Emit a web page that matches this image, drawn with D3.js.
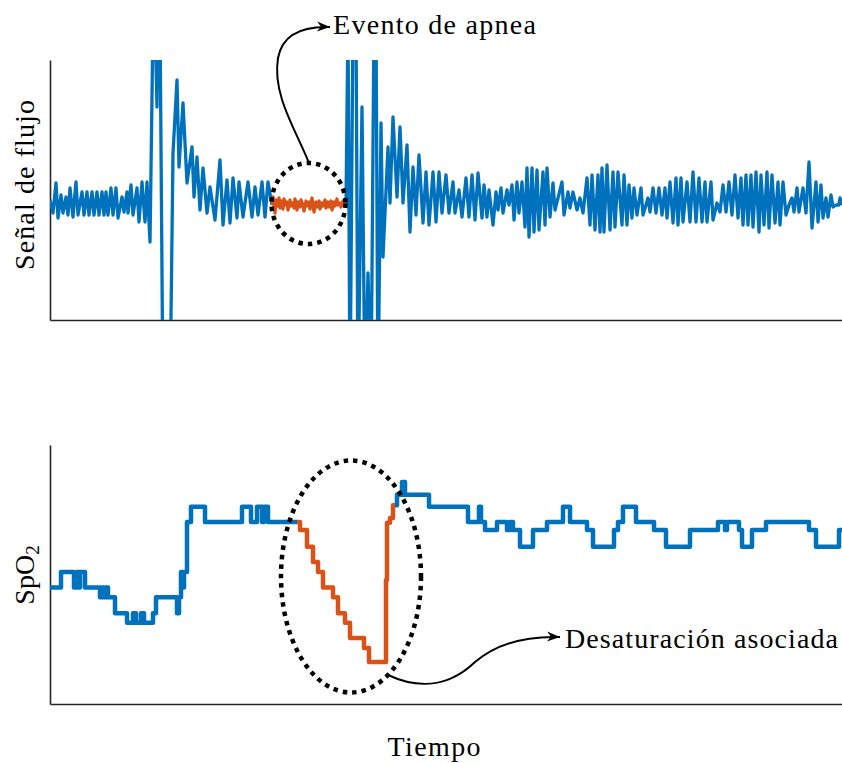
<!DOCTYPE html>
<html><head><meta charset="utf-8">
<script src="https://cdn.jsdelivr.net/npm/d3@7"></script>
<style>html,body{margin:0;padding:0;background:#fff;}svg{display:block;}</style>
</head><body>
<svg id="chart" width="842" height="763"></svg>
<script>
// ---------- DATA ----------
// Flow signal (time, amplitude in arbitrary units)
const flowBefore = [[0,3],[3,-10],[6,20],[8,-15],[11,8],[13,-10],[16,6],[18,-12],[20,15],[23,-14],[26,21],[28,-12],[32,11],[34,-12],[37,11],[39,-12],[42,11],[44,-12],[47,11],[49,-12],[52,11],[54,-12],[56,11],[58,-12],[61,15],[63,-12],[66,15],[68,-15],[72,6],[74,-9],[77,11],[78,-10],[81,18],[83,-12],[87,15],[89,-19],[92,21],[95,-19],[97,21],[100,-39],[102,106],[103,183],[105,183],[107,96],[108,183],[110,183],[113,-197],[120,-197],[123,50],[127,123],[129,36],[133,100],[137,20],[142,56],[144,6],[147,46],[150,-7],[153,35],[157,-10],[160,16],[165,-17],[170,43],[173,-22],[177,23],[180,-20],[183,25],[187,-15],[189,21],[193,-14],[198,21],[202,-14],[205,16],[208,-12],[212,21],[215,-14],[218,21],[222,-2]];
const flowApnea = [[222,-2],[223,6],[224,-4],[225,-10],[226,3],[228,-3],[229,5],[230,-5],[232,2],[233,-6],[234,4],[236,-2],[237,1],[238,-7],[240,3],[241,-3],[243,0],[244,-5],[245,4],[247,-7],[248,1],[250,-4],[251,3],[253,-2],[254,-8],[256,2],[257,-3],[259,1],[260,-6],[262,5],[263,-2],[264,-9],[266,1],[267,-4],[269,2],[270,-6],[272,0],[273,-3],[275,3],[276,-5],[278,1],[279,-4],[281,2],[282,-7],[284,1],[285,-3],[287,4],[288,-2],[290,0],[291,-4],[293,2],[294,-2],[296,-2]];
const flowAfter = [[296,-2],[298,183],[300,-197],[303,183],[306,183],[308,-197],[312,96],[315,-197],[318,-70],[321,-197],[324,183],[326,183],[328,-197],[331,80],[333,-54],[338,56],[340,0],[343,86],[347,6],[350,76],[353,0],[357,58],[360,-29],[363,36],[366,-12],[369,48],[373,-20],[376,31],[379,-22],[383,31],[386,-19],[389,31],[392,-10],[396,28],[399,-10],[403,21],[405,-10],[409,13],[412,-14],[416,25],[419,-14],[422,28],[425,-17],[428,30],[432,-15],[434,18],[437,-14],[439,13],[443,-22],[446,11],[448,-7],[451,15],[453,-10],[457,13],[459,-2],[462,18],[464,-17],[467,21],[469,-10],[472,21],[475,-24],[477,35],[479,-34],[482,35],[484,-29],[487,33],[489,-27],[493,31],[495,-22],[497,35],[500,-14],[503,20],[505,-7],[508,5],[512,21],[514,-12],[518,11],[520,-5],[523,11],[527,-7],[530,5],[533,-10],[537,25],[540,-22],[542,28],[545,-27],[548,28],[550,-29],[552,35],[554,-29],[557,38],[560,-27],[563,31],[565,-24],[568,31],[572,-22],[574,28],[577,-22],[579,18],[582,-15],[584,15],[587,-12],[591,15],[593,-12],[598,5],[600,-9],[603,15],[606,-10],[609,15],[612,-12],[615,15],[617,-15],[620,21],[623,-20],[626,25],[628,-22],[631,25],[633,-19],[637,21],[640,-19],[643,31],[646,-19],[649,25],[652,-19],[655,21],[657,-19],[661,21],[663,-17],[667,0],[670,-9],[673,18],[676,-9],[679,21],[682,-12],[685,28],[688,-15],[691,25],[693,-22],[696,28],[698,-22],[701,28],[703,-24],[706,31],[709,-29],[711,28],[714,-22],[717,31],[719,-25],[722,28],[725,-20],[728,21],[730,-22],[733,21],[736,-12],[739,-2],[742,5],[744,-9],[747,15],[749,-9],[753,15],[756,-10],[759,41],[762,-25],[766,21],[768,-19],[771,18],[773,-15],[776,5],[778,-14],[781,8],[783,-4],[786,-2],[789,-2],[790,5],[792,-2]];

// SpO2 (time, %), step values
const spo2Before = [[0,85.3],[11,87.25],[24,85.3],[27,87.25],[29,85.3],[30,87.25],[35,85.3],[50,84.1],[52,85.3],[54,84.1],[56,85.3],[58,84.1],[65,82.1],[77,80.9],[83,82.1],[86,80.9],[91,82.1],[94,80.9],[103,82.1],[106,84.1],[127,82.1],[129,84.1],[131,87.25],[133,85.3],[134,87.25],[137,93.5],[141,95.4],[155,93.5],[192,95.4],[201,93.5],[207,95.4],[212,93.5],[214,95.4],[218,93.5],[247,93.5]];
const spo2Desat = [[247,93.5],[250,92.5],[257,90.4],[263,88.5],[268,87.25],[273,85.3],[283,84.1],[288,82.1],[295,80.9],[300,79],[314,77.75],[319,76],[336,86.25],[337,93.4],[340,94],[343,95.6],[345,95.6]];
const spo2After = [[345,95.6],[347,96.9],[352,98.5],[355,96.9],[379,95.4],[418,93.5],[429,95.4],[431,93.5],[435,92.5],[447,93.5],[457,92.5],[460,93.5],[463,92.5],[470,90.4],[483,92.5],[497,93.5],[513,95.4],[520,93.5],[537,92.5],[543,90.4],[564,92.5],[568,93.5],[573,95.4],[586,93.5],[604,92.5],[616,90.4],[640,92.5],[668,93.5],[675,92.5],[677,93.5],[689,92.5],[692,90.4],[702,92.5],[716,93.5],[759,92.5],[766,90.4],[789,92.5],[792,92.5]];

const labels = {flowY: "Señal de flujo", xLabel: "Tiempo", apnea: "Evento de apnea", desat: "Desaturación asociada"};

// ---------- STYLE / LAYOUT ----------
const BLUE = "#0072BD", ORANGE = "#D95319", AXIS = "#262626";
const FONT = "'Liberation Serif', 'Times New Roman', serif";
const svg = d3.select("#chart");
const left = 50, right = 842;
const top1 = 60, bot1 = 320, top2 = 445, bot2 = 704;

const x = d3.scaleLinear().domain([0, 792]).range([left, right]);
const yFlow = d3.scaleLinear().domain([-117, 143]).range([bot1, top1]);
const ySp = d3.scaleLinear().domain([70.75, 103.125]).range([bot2, top2]);

const defs = svg.append("defs");
defs.append("clipPath").attr("id", "clip1").append("rect")
  .attr("x", left).attr("y", top1).attr("width", right - left).attr("height", bot1 - top1);
defs.append("clipPath").attr("id", "clip2").append("rect")
  .attr("x", left).attr("y", top2).attr("width", right - left).attr("height", bot2 - top2);
defs.append("marker").attr("id", "arrow").attr("viewBox", "-14 -6 16 12")
  .attr("refX", 0).attr("refY", 0).attr("markerWidth", 16).attr("markerHeight", 12)
  .attr("markerUnits", "userSpaceOnUse").attr("orient", "auto")
  .append("path").attr("d", "M0,0 L-13,-5 L-9,0 L-13,5 Z").attr("fill", "#000");

// axes (box off: only left & bottom, no ticks)
function axes(yScale, yTop, yBot) {
  const ax = d3.axisLeft(yScale).tickValues([]).tickSizeOuter(0);
  svg.append("g").attr("transform", `translate(${left},0)`).call(ax)
    .select(".domain").attr("stroke", AXIS).attr("stroke-width", 1.6);
  const bx = d3.axisBottom(x).tickValues([]).tickSizeOuter(0);
  svg.append("g").attr("transform", `translate(0,${yBot})`).call(bx)
    .select(".domain").attr("stroke", AXIS).attr("stroke-width", 1.6);
}
axes(yFlow, top1, bot1);
axes(ySp, top2, bot2);

// flow lines
const flowLine = d3.line().x(d => x(d[0])).y(d => yFlow(d[1]));
const g1 = svg.append("g").attr("clip-path", "url(#clip1)");
[[flowBefore, BLUE], [flowAfter, BLUE], [flowApnea, ORANGE]].forEach(([data, c]) => {
  g1.append("path").datum(data).attr("d", flowLine).attr("fill", "none")
    .attr("stroke", c).attr("stroke-width", 3.3).attr("stroke-linejoin", "round");
});

// SpO2 lines
const spLine = d3.line().x(d => x(d[0])).y(d => ySp(d[1])).curve(d3.curveStepAfter);
const g2 = svg.append("g").attr("clip-path", "url(#clip2)");
[[spo2Before, BLUE], [spo2After, BLUE], [spo2Desat, ORANGE]].forEach(([data, c]) => {
  g2.append("path").datum(data).attr("d", spLine).attr("fill", "none")
    .attr("stroke", c).attr("stroke-width", 4.5).attr("stroke-linejoin", "round");
});

// dotted ellipses
svg.append("ellipse").attr("cx", 308.5).attr("cy", 203.5).attr("rx", 37).attr("ry", 40.5)
  .attr("fill", "none").attr("stroke", "#000").attr("stroke-width", 4.5).attr("stroke-dasharray", "4.5 5");
svg.append("ellipse").attr("cx", 351).attr("cy", 576.5).attr("rx", 70).attr("ry", 116)
  .attr("fill", "none").attr("stroke", "#000").attr("stroke-width", 4.5).attr("stroke-dasharray", "4.5 5");

// arrows
svg.append("path").attr("d", "M309,163 C296,130 272,95 278,58 C282,36 300,26 330,27")
  .attr("fill", "none").attr("stroke", "#000").attr("stroke-width", 2).attr("marker-end", "url(#arrow)");
svg.append("path").attr("d", "M388,675 C420,690 450,686 475,662 C500,641 530,636 560,637")
  .attr("fill", "none").attr("stroke", "#000").attr("stroke-width", 2).attr("marker-end", "url(#arrow)");

// texts
function txt(s, xx, yy, w, anchor, rot) {
  const t = svg.append("text").attr("font-family", FONT).attr("font-size", 28)
    .attr("fill", "#000").attr("text-anchor", anchor || "start").text(s);
  if (rot) t.attr("transform", `translate(${xx},${yy}) rotate(-90)`);
  else t.attr("x", xx).attr("y", yy);
  if (w) t.attr("textLength", w).attr("lengthAdjust", "spacing");
  return t;
}
txt(labels.apnea, 333, 34, 203);
txt(labels.desat, 565, 648, 273);
txt(labels.xLabel, 434, 756, 93, "middle");
txt(labels.flowY, 34, 185, 170, "middle", true);
// SpO2 with subscript
const sp = svg.append("text").attr("font-family", FONT).attr("font-size", 28).attr("fill", "#000")
  .attr("text-anchor", "middle").attr("transform", "translate(34,575) rotate(-90)");
sp.append("tspan").text("SpO");
sp.append("tspan").attr("font-size", 19).attr("dy", 5).text("2");
</script>
</body></html>
